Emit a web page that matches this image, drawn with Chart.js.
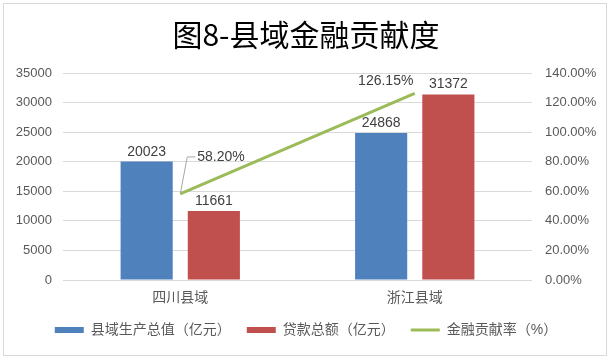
<!DOCTYPE html>
<html>
<head>
<meta charset="utf-8">
<script src="https://cdn.jsdelivr.net/npm/chart.js@4.4.0/dist/chart.umd.min.js"></script>
<style>
  body { margin: 0; background: #fff; }
  #wrap { position: relative; width: 612px; height: 359px; }
  #frame {
    position: absolute; left: 3px; top: 3px; width: 604px; height: 353px;
    border: 1px solid #d9d9d9; box-sizing: border-box; pointer-events: none;
  }
  canvas { position: absolute; left: 0; top: 0; }
</style>
</head>
<body>
<div id="wrap">
  <canvas id="barChart" width="612" height="359"></canvas>
  <div id="frame"></div>
</div>
<script>
// Chart data
const categories = ["四川县域", "浙江县域"];
const gdpValues = [20023, 24868]; // 县域生产总值（亿元）
const loanValues = [11661, 31372]; // 贷款总额（亿元）
const contributionRates = [58.2, 126.15]; // 金融贡献率（%）
const leftTicks = [0, 5000, 10000, 15000, 20000, 25000, 30000, 35000];
const rightTicks = [0, 20, 40, 60, 80, 100, 120, 140];

const fontFamily = "'Liberation Sans', 'Noto Sans CJK SC', sans-serif";
const textColor = "#595959";

window.onload = function () {
  // Draw the value labels above bars and next to the line points
  const valueLabels = {
    id: "valueLabels",
    afterDatasetsDraw(chart) {
      const c = chart.ctx;
      c.save();
      c.font = "14px " + fontFamily;
      c.fillStyle = "#404040";
      c.textAlign = "center";
      c.textBaseline = "alphabetic";
      [0, 1].forEach((di) => {
        chart.getDatasetMeta(di).data.forEach((bar, i) => {
          c.fillText(String(chart.data.datasets[di].data[i]), bar.x, bar.y - 6);
        });
      });

      const pts = chart.getDatasetMeta(2).data;
      const rates = chart.data.datasets[2].data;
      c.textBaseline = "middle";

      // first point: label with leader line
      const p0 = pts[0];
      c.strokeStyle = "#a6a6a6";
      c.lineWidth = 1;
      c.beginPath();
      c.moveTo(p0.x, p0.y);
      c.lineTo(p0.x + 7, p0.y - 37);
      c.lineTo(p0.x + 15, p0.y - 37);
      c.stroke();
      c.textAlign = "left";
      c.fillText(rates[0].toFixed(2) + "%", p0.x + 17, p0.y - 37);

      // second point: label up-left of the point
      const p1 = pts[1];
      c.textAlign = "center";
      c.fillText(rates[1].toFixed(2) + "%", p1.x - 29, p1.y - 12);
      c.restore();
    },
  };

  // Initialize the combo chart
  const ctx = document.getElementById("barChart").getContext("2d");
  const comboChart = new Chart(ctx, {
    type: "bar",
    data: {
      labels: categories,
      datasets: [
        {
          label: "县域生产总值（亿元）",
          data: gdpValues,
          backgroundColor: "#4F81BD",
          pointStyle: "rect",
          yAxisID: "y",
        },
        {
          label: "贷款总额（亿元）",
          data: loanValues,
          backgroundColor: "#C0504D",
          pointStyle: "rect",
          yAxisID: "y",
        },
        {
          type: "line",
          label: "金融贡献率（%）",
          data: contributionRates,
          borderColor: "#9BBB59",
          backgroundColor: "#9BBB59",
          borderWidth: 3,
          pointRadius: 0,
          pointStyle: "line",
          yAxisID: "y1",
        },
      ],
    },
    options: {
      responsive: false,
      animation: false,
      devicePixelRatio: 1,
      categoryPercentage: 0.573,
      barPercentage: 0.776,
      layout: { padding: { left: 0, right: 0, top: 0, bottom: 12 } },
      plugins: {
        title: {
          display: true,
          text: "图8-县域金融贡献度",
          color: "#000",
          font: { family: "'Noto Sans CJK SC'", size: 30, weight: "normal" },
          padding: { top: 17, bottom: 20 },
        },
        legend: {
          position: "bottom",
          labels: {
            usePointStyle: true,
            pointStyleWidth: 29,
            boxHeight: 6,
            padding: 16,
            color: textColor,
            font: { family: fontFamily, size: 14 },
          },
        },
        tooltip: { enabled: false },
      },
      scales: {
        x: {
          grid: { display: false, drawTicks: false, tickLength: 0 },
          border: { display: false },
          ticks: {
            color: textColor,
            padding: 10,
            font: { family: fontFamily, size: 14 },
          },
          afterFit: (scale) => {
            scale.height = 27;
          },
        },
        y: {
          position: "left",
          min: leftTicks[0],
          max: leftTicks[leftTicks.length - 1],
          afterBuildTicks: (scale) => {
            scale.ticks = leftTicks.map((v) => ({ value: v }));
          },
          grid: { color: "#d9d9d9", drawTicks: false },
          border: { display: false },
          ticks: {
            color: textColor,
            padding: 11,
            font: { family: fontFamily, size: 13 },
            callback: (value) => String(value),
          },
          afterFit: (scale) => {
            scale.width = 63;
          },
        },
        y1: {
          position: "right",
          min: rightTicks[0],
          max: rightTicks[rightTicks.length - 1],
          afterBuildTicks: (scale) => {
            scale.ticks = rightTicks.map((v) => ({ value: v }));
          },
          grid: { display: false, drawTicks: false },
          border: { display: false },
          ticks: {
            color: textColor,
            padding: 13,
            font: { family: fontFamily, size: 13 },
            callback: (value) => value.toFixed(2) + "%",
          },
          afterFit: (scale) => {
            scale.width = 80;
          },
        },
      },
    },
    plugins: [valueLabels],
  });
};
</script>
</body>
</html>
